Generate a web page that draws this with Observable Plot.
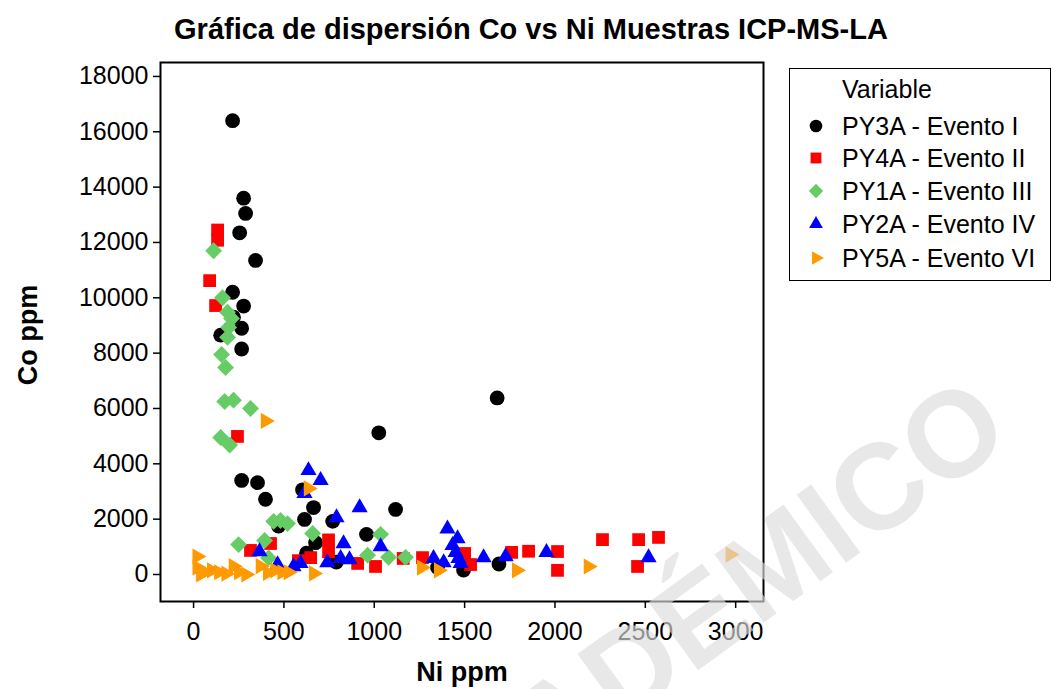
<!DOCTYPE html>
<html>
<head>
<meta charset="utf-8">
<script src="https://cdn.jsdelivr.net/npm/d3@7"></script>
<script src="https://cdn.jsdelivr.net/npm/@observablehq/plot@0.6"></script>
<style>
  html, body { margin: 0; padding: 0; background: #fff; }
  #wrap { position: relative; width: 1053px; height: 689px; overflow: hidden; font-family: "Liberation Sans", Arial, sans-serif; }
  #title { position: absolute; left: 531px; top: 29px; transform: translate(-50%,-50%); white-space: nowrap; font-weight: bold; font-size: 29px; color: #000; }
  .axlab { position: absolute; font-weight: bold; font-size: 27px; color: #000; white-space: nowrap; line-height: 1; }
  #legend { position: absolute; left: 789px; top: 68px; width: 262px; height: 213px; border: 1.5px solid #000; box-sizing: border-box; font-size: 25px; }
  #legend .hdr { position: absolute; left: 52px; top: 8px; line-height: 1; }
  #legend .row { position: absolute; left: 0; height: 25px; }
  #legend .row svg { position: absolute; left: 16px; top: 2px; }
  #legend .row span { position: absolute; left: 52px; top: 0; white-space: nowrap; line-height: 1; }
  #wm { position: absolute; left: 0; top: 0; pointer-events: none; }
</style>
</head>
<body>
<div id="wrap">
  <div id="title">Gráfica de dispersión Co vs Ni Muestras ICP-MS-LA</div>
  <div id="chart"></div>
  <div class="axlab" id="ylab">Co ppm</div>
  <div class="axlab" id="xlab">Ni ppm</div>
  <div id="legend"></div>
</div>
<script>
// ---- data (Ni ppm, Co ppm) ----
const seriesNames = ["PY3A - Evento I", "PY4A - Evento II", "PY1A - Evento III", "PY2A - Evento IV", "PY5A - Evento VI"];
const py3aNi = [216, 277, 288, 255, 343, 216, 277, 221, 266, 150, 266, 1680, 1025, 266, 354, 398, 603, 664, 614, 770, 1118, 957, 675, 625, 470, 790, 1350, 1494, 1690];
const py3aCo = [16400, 13600, 13050, 12350, 11350, 10200, 9700, 9300, 8900, 8650, 8150, 6380, 5120, 3400, 3320, 2720, 3060, 2420, 1990, 1920, 2350, 1450, 1150, 770, 1750, 450, 250, 160, 380];
const py4aNi = [133, 133, 89, 122, 243, 315, 426, 747, 747, 580, 648, 908, 1007, 1160, 1267, 1500, 1533, 1760, 1854, 2014, 2014, 2263, 2463, 2573, 2457];
const py4aCo = [12450, 12080, 10620, 9720, 4990, 870, 1120, 1250, 820, 500, 610, 400, 290, 580, 610, 760, 360, 800, 840, 830, 150, 1260, 1260, 1340, 290];
const py1aNi = [111, 160, 188, 210, 194, 188, 155, 177, 172, 221, 315, 150, 200, 249, 393, 443, 481, 520, 415, 659, 963, 1035, 1079, 1173];
const py1aCo = [11700, 10000, 9480, 9250, 8930, 8570, 7950, 7480, 6250, 6300, 6000, 4950, 4680, 1080, 1230, 1920, 1950, 1840, 600, 1480, 700, 1450, 620, 620];
const py2aNi = [636, 703, 614, 919, 791, 830, 1035, 365, 465, 592, 553, 740, 814, 863, 1405, 1461, 1433, 1450, 1466, 1478, 1328, 1384, 1605, 1727, 1953, 2518];
const py2aCo = [3760, 3400, 2930, 2420, 2060, 1120, 1010, 830, 360, 400, 290, 430, 580, 540, 1650, 1300, 1050, 800, 580, 400, 580, 430, 610, 650, 800, 610];
const py5aNi = [20, 20, 40, 60, 100, 140, 180, 220, 250, 290, 370, 410, 450, 490, 525, 636, 665, 398, 1262, 1356, 1788, 2185, 2970];
const py5aCo = [650, 250, 0, 100, 150, 80, 30, 300, 80, 0, 300, 60, 150, 80, 80, 3110, 40, 5550, 250, 150, 150, 290, 720];
const xTicks = [0, 500, 1000, 1500, 2000, 2500, 3000];
const yTicks = [0, 2000, 4000, 6000, 8000, 10000, 12000, 14000, 16000, 18000];

// ---- build table ----
const seriesData = [
  [py3aNi, py3aCo], [py4aNi, py4aCo], [py1aNi, py1aCo], [py2aNi, py2aCo], [py5aNi, py5aCo]
];
const rows = [];
seriesData.forEach(([xs, ys], i) => xs.forEach((x, j) => rows.push({ni: x, co: ys[j], s: seriesNames[i]})));

const colors = ["#000000", "#ff0000", "#66cc66", "#0000ff", "#ff9900"];
const symbols = ["circle", "square", "diamond2", "triangle", "triangle"];
const radii = [7.4, 7.2, 7.6, 6.0, 6.0];
const rotations = [0, 0, 0, 0, 90];

const W = 1053, H = 689;
const marks = [Plot.frame({stroke: "#000", strokeWidth: 2})];
seriesNames.forEach((name, i) => {
  marks.push(Plot.dot(rows.filter(d => d.s === name), {
    x: "ni", y: "co", fill: colors[i], stroke: "none",
    symbol: symbols[i], r: radii[i], rotate: rotations[i]
  }));
});
marks.push(Plot.axisX(xTicks, {tickSize: 7, tickPadding: 14, label: null, fontSize: 25, tickFormat: d => String(d), stroke: "#000", strokeWidth: 1.5}));
marks.push(Plot.axisY(yTicks, {tickSize: 7, tickPadding: 5, label: null, fontSize: 25, tickFormat: d => String(d), stroke: "#000", strokeWidth: 1.5}));

const chart = Plot.plot({
  width: W, height: H,
  marginLeft: 160, marginRight: W - 763, marginTop: 62, marginBottom: H - 601,
  x: {domain: [-183, 3154]},
  y: {domain: [-976, 18504]},
  style: {fontFamily: "Liberation Sans, Arial, sans-serif", color: "#000", background: "transparent"},
  marks
});
document.getElementById("chart").appendChild(chart);

// axis labels
const yl = document.getElementById("ylab");
yl.style.left = "28px"; yl.style.top = "335px";
yl.style.transform = "translate(-50%,-50%) rotate(-90deg)";
const xl = document.getElementById("xlab");
xl.style.left = "462px"; xl.style.top = "672px";
xl.style.transform = "translate(-50%,-50%)";

// legend
const leg = document.getElementById("legend");
const hdr = document.createElement("div"); hdr.className = "hdr"; hdr.textContent = "Variable"; leg.appendChild(hdr);
const rowTops = [45, 77, 110, 143, 177];
seriesNames.forEach((name, i) => {
  const r = document.createElement("div"); r.className = "row"; r.style.top = rowTops[i] + "px";
  const s = d3.create("svg").attr("width", 20).attr("height", 20);
  const sym = {circle: d3.symbolCircle, square: d3.symbolSquare, diamond2: d3.symbolDiamond2, triangle: d3.symbolTriangle}[symbols[i]];
  const sz = Math.PI * (radii[i] * 0.85) ** 2;
  s.append("path").attr("d", d3.symbol(sym, sz)()).attr("fill", colors[i])
    .attr("transform", `translate(10,10) rotate(${rotations[i]})`);
  r.appendChild(s.node());
  const t = document.createElement("span"); t.textContent = name; r.appendChild(t);
  leg.appendChild(r);
});

// watermark
const wm = d3.select("#wrap").append("svg").attr("id", "wm").attr("width", W).attr("height", H);
wm.append("text").attr("x", 1015).attr("y", 440).attr("text-anchor", "end")
  .attr("transform", "rotate(-36 1015 440)")
  .attr("font-family", "Liberation Sans, Arial, sans-serif").attr("font-weight", "bold")
  .attr("font-size", 122).attr("fill", "#dcdcdc").attr("fill-opacity", 0.65)
  .text("ACADÉMICO");
</script>
</body>
</html>
